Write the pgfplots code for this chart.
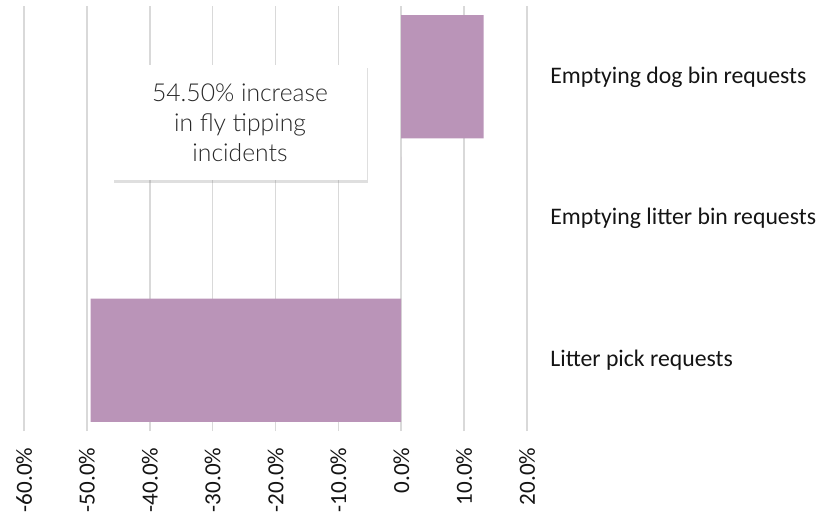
\documentclass[border=0pt]{standalone}
\usepackage{pgfplots}
\pgfplotsset{compat=1.18}
\usepackage{fontspec}
\setmainfont{Carlito}
\newfontfamily\boxfont{Lato}[UprightFont={* Light}]
\usetikzlibrary{shadows}
\definecolor{barc}{RGB}{186,148,184}
\definecolor{gridc}{RGB}{217,217,217}
\definecolor{txt}{RGB}{20,20,20}
\definecolor{boxtxt}{RGB}{40,40,40}
\begin{document}
\begin{tikzpicture}
\path[use as bounding box] (-18pt,-60.75pt) rectangle (611.25pt,323.25pt);
\begin{axis}[
  at={(0pt,0pt)}, anchor=south west,
  scale only axis,
  width=377.25pt, height=318.75pt,
  xbar, bar width=0.87,
  xmin=-60, xmax=20,
  ymin=-0.5, ymax=2.5,
  xtick={-60,-50,...,20},
  ytick={0,1,2},
  yticklabels={Litter pick requests, Emptying litter bin requests, Emptying dog bin requests},
  yticklabel pos=right,
  yticklabel style={anchor=west, xshift=14pt, font=\fontsize{17.8}{20}\selectfont, text=txt},
  xticklabel={\pgfmathprintnumber[fixed,fixed zerofill,precision=1]{\tick}\%},
  xticklabel style={rotate=90, anchor=east, font=\fontsize{17.3}{20}\selectfont, text=txt},
  xticklabel shift=9pt,
  /pgf/number format/assume math mode=true,
  xmajorgrids, major grid style={gridc, line width=1.2pt},
  axis line style={draw=none},
  major tick length=0pt,
  clip=false,
]
\addplot[fill=barc, draw=none] coordinates {(-49.4,0) (0,1) (13.1,2)};
\node[fill=white, drop shadow={shadow xshift=1pt, shadow yshift=-2pt, opacity=0.25}, minimum width=190.5pt, minimum height=86.25pt, align=center, font=\boxfont\fontsize{18.5}{22.5}\selectfont, text=boxtxt] at (axis cs:-25.65,1.678) {54.50\% increase\\in fly tipping\\incidents};
\end{axis}
\end{tikzpicture}
\end{document}
